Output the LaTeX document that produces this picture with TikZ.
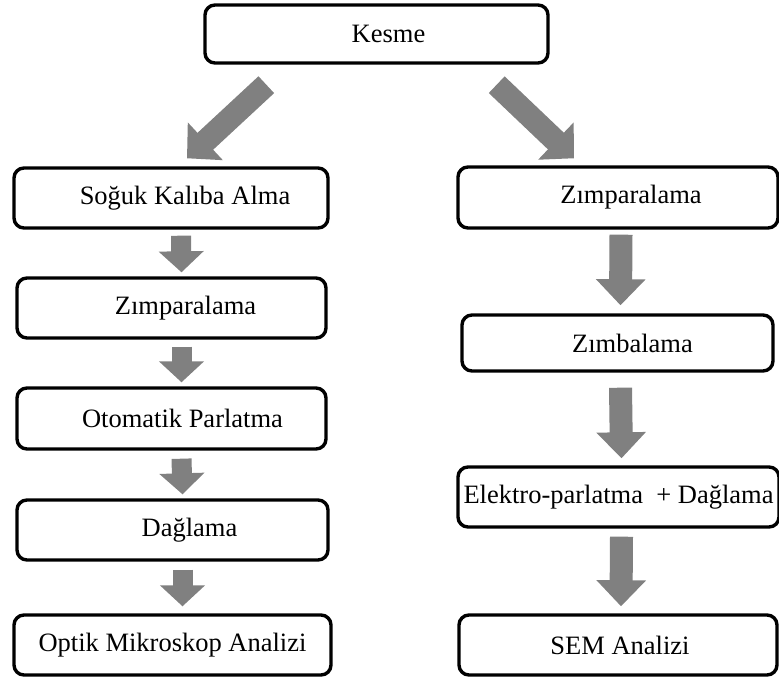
\documentclass[tikz,border=0pt]{standalone}
\usepackage{fontspec}
\setmainfont{Liberation Serif}
\usetikzlibrary{arrows.meta,calc}
\definecolor{arrowgray}{RGB}{128,128,128}
\begin{document}
\begin{tikzpicture}[x=1pt,y=-1pt,
  box/.style={draw=black, line width=3.4pt, rounded corners=10pt, fill=white,
    inner sep=0pt, font=\fontsize{26.5}{31}\selectfont},
  sh/.style={execute at begin node={\hspace*{#1}}},
  smallflow/.style={draw=arrowgray, line width=20pt,
    -{Triangle[width=44pt,length=21pt]}},
  bigflow/.style={draw=arrowgray, line width=23pt,
    -{Triangle[width=48pt,length=26pt]}},
  diagflow/.style={draw=arrowgray, line width=23pt,
    -{Triangle[width=50pt,length=25pt]}}]
\useasboundingbox (0,0) rectangle (779,679);

% top
\node[box, sh=24pt, minimum width=343pt, minimum height=58pt] (kesme) at (376.5,34) {Kesme};

% left column
\node[box, sh=28pt, minimum width=314pt, minimum height=60pt] (soguk) at (171,198) {Soğuk Kalıba Alma};
\node[box, sh=28pt, minimum width=309pt, minimum height=60pt] (zimL) at (171.5,308) {Zımparalama};
\node[box, sh=22pt, minimum width=309pt, minimum height=61pt] (oto) at (171.5,418.5) {Otomatik Parlatma};
\node[box, sh=34pt, minimum width=311pt, minimum height=60pt] (dag) at (172.5,530) {Dağlama};
\node[box, minimum width=317pt, minimum height=60pt] (optik) at (172.5,645) {Optik Mikroskop Analizi};

% right column
\node[box, sh=26pt, minimum width=320pt, minimum height=61pt] (zimR) at (618,197.5) {Zımparalama};
\node[box, sh=30pt, minimum width=311pt, minimum height=56pt] (zimba) at (617.5,343) {Zımbalama};
\node[box, minimum width=321pt, minimum height=60pt] (elek) at (618.5,497) {Elektro-parlatma \ + Dağlama};
\node[box, sh=4pt, minimum width=318pt, minimum height=60pt] (sem) at (618,645) {SEM Analizi};

% diagonal arrows
\draw[diagflow] ($(kesme.south west)+(63,20)$) -- ($(soguk.north)+(16,-8)$);
\draw[diagflow] ($(kesme.south east)+(-53,20)$) -- ($(zimR.north)+(-44,-7)$);

% left column arrows
\draw[smallflow] ($(soguk.south)+(10,6)$) -- ($(zimL.north)+(10,-4)$);
\draw[smallflow] ($(zimL.south)+(10,7)$) -- ($(oto.north)+(10,-4)$);
\draw[smallflow] ($(oto.south)+(10,8)$) -- ($(dag.north)+(10,-4)$);
\draw[smallflow] ($(dag.south)+(10,8)$) -- ($(optik.north)+(10,-7)$);

% right column arrows
\draw[bigflow] ($(zimR.south)+(3,5)$) -- ($(zimba.north)+(3,-8)$);
\draw[bigflow] ($(zimba.south)+(3,15)$) -- ($(elek.north)+(3,-7)$);
\draw[bigflow] ($(elek.south)+(3,8)$) -- ($(sem.north)+(3,-7)$);
\end{tikzpicture}
\end{document}
